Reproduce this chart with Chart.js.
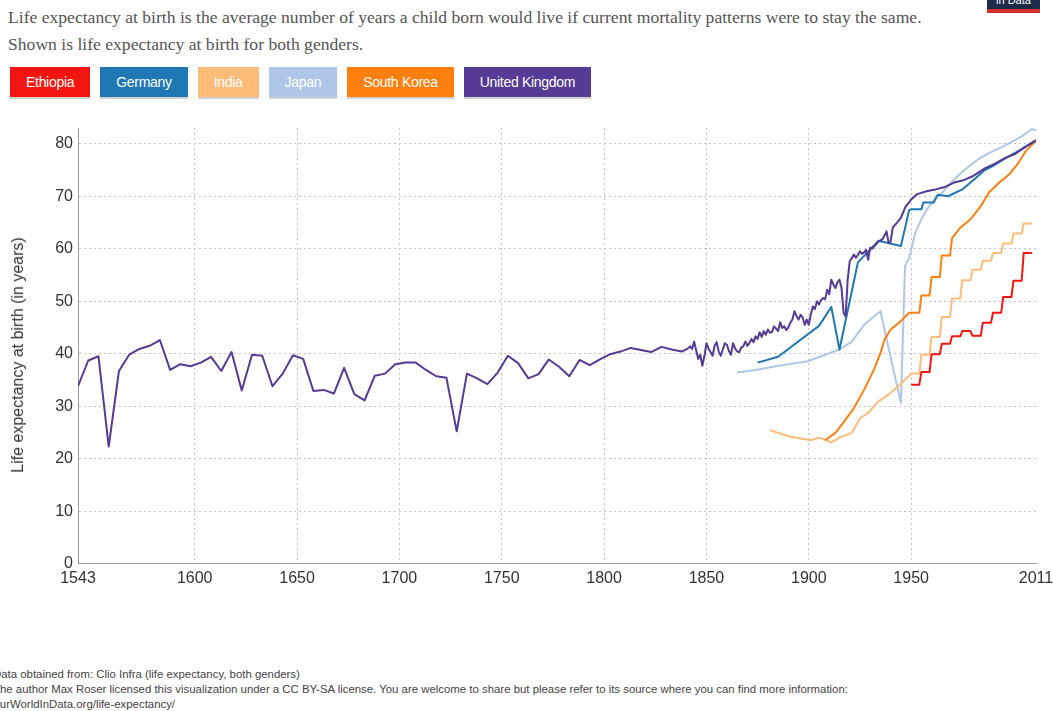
<!DOCTYPE html>
<html>
<head>
<meta charset="utf-8">
<script src="https://cdn.jsdelivr.net/npm/chart.js@4.4.1/dist/chart.umd.min.js"></script>
<style>
    html, body { margin: 0; padding: 0; background: #fff; }
    body { width: 1053px; height: 711px; position: relative; overflow: hidden; font-family: "Liberation Sans", Arial, sans-serif; }
    .intro { position: absolute; left: 8px; font-family: "Liberation Serif", serif; font-size: 17.6px; color: #555; white-space: nowrap; }
    .logo { position: absolute; left: 987px; top: -7px; width: 53px; height: 16px; background: #1d2b4b; border-bottom: 4px solid #d3302c; color: #fff; font-size: 11px; text-align: center; line-height: 14px; overflow: hidden; }
    #legend { position: absolute; left: 10px; top: 67px; display: flex; gap: 10px; }
    .btn { height: 30px; line-height: 30px; padding: 0 16px; color: #fff; font-size: 14px; letter-spacing: -0.3px; box-shadow: 0 2px 0 rgba(0,0,0,0.18); }
    #wrap { position: absolute; left: 0; top: 110px; width: 1053px; height: 490px; }
    .ytitle { position: absolute; left: 18px; top: 355px; transform: translate(-50%, -50%) rotate(-90deg); font-size: 16px; color: #333; white-space: nowrap; }
    .foot { position: absolute; font-size: 11.4px; color: #444; white-space: nowrap; }
</style>
</head>
<body>
<div class="logo">in Data</div>
<div class="intro" style="top:7px">Life expectancy at birth is the average number of years a child born would live if current mortality patterns were to stay the same.</div>
<div class="intro" style="top:34px">Shown is life expectancy at birth for both genders.</div>
<div id="legend"></div>
<div id="wrap"><canvas id="lifeChart"></canvas></div>
<div class="ytitle">Life expectancy at birth (in years)</div>
<div class="foot" style="left:-7px; top:668px">Data obtained from: Clio Infra (life expectancy, both genders)</div>
<div class="foot" style="left:-7px; top:683px">The author Max Roser licensed this visualization under a CC BY-SA license. You are welcome to share but please refer to its source where you can find more information:</div>
<div class="foot" style="left:-9px; top:698px">OurWorldInData.org/life-expectancy/</div>

<script>
// series names and colours
const seriesNames = ['Ethiopia', 'Germany', 'India', 'Japan', 'South Korea', 'United Kingdom'];
const seriesColors = ['#f3150f', '#1f77b4', '#ffbb78', '#aec7e8', '#ff7f0e', '#553a96'];

// axis ticks
const xTickYears = [1543, 1600, 1650, 1700, 1750, 1800, 1850, 1900, 1950, 2011];
const yTickValues = [0, 10, 20, 30, 40, 50, 60, 70, 80];

// Ethiopia
const ethiopiaYears = [1950, 1954, 1955, 1959, 1960, 1964, 1965, 1969, 1970, 1974, 1975, 1979, 1980, 1984, 1985, 1989, 1990, 1994, 1995, 1999, 2000, 2004, 2005, 2009];
const ethiopiaValues = [34.1, 34.1, 36.5, 36.5, 39.9, 39.9, 41.9, 41.9, 43.3, 43.3, 44.3, 44.3, 43.4, 43.4, 45.9, 45.9, 47.8, 47.8, 50.8, 50.8, 53.9, 53.9, 59.2, 59.2];

// Germany
const germanyYears = [1875, 1885, 1905, 1911, 1915, 1924, 1934, 1945, 1949, 1950, 1955, 1956, 1961, 1963, 1968, 1975, 1981, 1986, 1991, 1996, 2001, 2005, 2011];
const germanyValues = [38.3, 39.4, 45.3, 48.9, 40.8, 57.4, 61.5, 60.5, 67.3, 67.5, 67.5, 68.8, 68.8, 70.3, 70.0, 71.3, 73.3, 75.0, 76.0, 77.2, 78.3, 79.2, 80.6];

// India
const indiaYears = [1881, 1891, 1901, 1905, 1908, 1911, 1916, 1921, 1925, 1929, 1934, 1939, 1944, 1949, 1950, 1954, 1955, 1959, 1960, 1964, 1965, 1969, 1970, 1974, 1975, 1979, 1980, 1984, 1985, 1989, 1990, 1994, 1995, 1999, 2000, 2004, 2005, 2009];
const indiaValues = [25.4, 24.2, 23.5, 24.0, 23.6, 23.1, 24.2, 24.9, 27.7, 28.7, 30.9, 32.2, 33.9, 35.8, 36.2, 36.2, 39.8, 39.8, 43.2, 43.2, 47.0, 47.0, 50.5, 50.5, 54.0, 54.0, 56.0, 56.0, 57.7, 57.7, 59.2, 59.2, 61.0, 61.0, 62.9, 62.9, 64.8, 64.8];

// Japan
const japanYears = [1865, 1874, 1884, 1890, 1899, 1906, 1915, 1921, 1927, 1935, 1945, 1947, 1948, 1949, 1950, 1952, 1955, 1958, 1962, 1965, 1970, 1976, 1983, 1988, 1994, 1999, 2004, 2009, 2011];
const japanValues = [36.4, 36.9, 37.6, 38.0, 38.5, 39.5, 40.8, 42.3, 45.5, 48.1, 30.6, 56.7, 57.5, 58.2, 59.8, 63.0, 65.6, 67.7, 69.6, 70.6, 72.8, 75.0, 77.1, 78.2, 79.3, 80.3, 81.4, 82.8, 82.5];

// South Korea
const southKoreaYears = [1908, 1913, 1917, 1922, 1927, 1932, 1935, 1937, 1940, 1945, 1949, 1950, 1954, 1955, 1959, 1960, 1964, 1965, 1969, 1970, 1974, 1979, 1984, 1988, 1993, 1998, 2002, 2006, 2011];
const southKoreaValues = [23.5, 24.9, 26.9, 29.6, 33.1, 37.1, 40.1, 42.7, 44.6, 46.2, 47.8, 47.8, 47.8, 51.1, 51.1, 54.6, 54.6, 58.7, 58.7, 62.0, 64.0, 65.6, 68.1, 70.7, 72.6, 74.2, 76.1, 78.6, 80.6];

// United Kingdom
const ukYears = [
    1543, 1548, 1553, 1558, 1563, 1568, 1573, 1578, 1583, 1588, 1593, 1598, 1603, 1608, 1613, 1618, 1623, 1628, 1633, 1638,
    1643, 1648, 1653, 1658, 1663, 1668, 1673, 1678, 1683, 1688, 1693, 1698, 1703, 1708, 1713, 1718, 1723, 1728, 1733, 1738,
    1743, 1748, 1753, 1758, 1763, 1768, 1773, 1778, 1783, 1788, 1793, 1798, 1803, 1808, 1813, 1818, 1823, 1828, 1833, 1838,
    1841, 1842, 1843, 1844, 1845, 1846, 1847, 1848, 1849, 1850, 1851, 1852, 1853, 1854, 1855, 1856, 1857, 1858, 1859, 1860,
    1861, 1862, 1863, 1864, 1865, 1866, 1867, 1868, 1869, 1870, 1871, 1872, 1873, 1874, 1875, 1876, 1877, 1878, 1879, 1880,
    1881, 1882, 1883, 1884, 1885, 1886, 1887, 1888, 1889, 1890, 1891, 1892, 1893, 1894, 1895, 1896, 1897, 1898, 1899, 1900,
    1901, 1902, 1903, 1904, 1905, 1906, 1907, 1908, 1909, 1910, 1911, 1912, 1913, 1914, 1915, 1916, 1917, 1918, 1919, 1920,
    1921, 1922, 1923, 1924, 1925, 1926, 1927, 1928, 1929, 1930, 1931, 1932, 1933, 1934, 1935, 1936, 1937, 1938, 1939, 1940,
    1941, 1942, 1943, 1944, 1945, 1946, 1947, 1948, 1949, 1950, 1953, 1958, 1962, 1966, 1971, 1976, 1980, 1986, 1991, 1996,
    2001, 2005, 2011
];
const ukValues = [
    33.8, 38.7, 39.5, 22.3, 36.7, 39.8, 40.9, 41.5, 42.6, 36.9, 38.0, 37.6, 38.3, 39.4, 36.7, 40.3, 33.0, 39.8, 39.6, 33.8,
    36.2, 39.7, 39.0, 32.9, 33.1, 32.4, 37.3, 32.3, 31.1, 35.8, 36.2, 38.0, 38.3, 38.3, 36.9, 35.7, 35.4, 25.2, 36.2, 35.3,
    34.2, 36.4, 39.6, 38.2, 35.3, 36.1, 38.9, 37.5, 35.7, 38.8, 37.8, 38.9, 39.9, 40.4, 41.1, 40.7, 40.3, 41.3, 40.8, 40.4,
    41.0, 41.4, 40.9, 42.3, 40.6, 39.0, 39.8, 37.7, 39.5, 42.0, 41.0, 40.3, 39.6, 41.5, 42.2, 40.4, 39.6, 40.8, 42.0, 41.7,
    40.5, 39.8, 42.0, 41.0, 40.4, 40.3, 41.2, 41.4, 42.3, 41.5, 42.0, 42.8, 42.2, 43.3, 42.8, 44.1, 43.2, 44.3, 43.6, 44.6,
    44.0, 44.1, 45.2, 44.8, 44.3, 46.0, 44.9, 45.2, 44.5, 45.0, 45.9, 46.5, 48.1, 47.2, 46.5, 47.4, 46.9, 45.5, 46.5, 45.5,
    47.5, 49.0, 48.5, 50.0, 49.4, 50.2, 50.6, 50.4, 52.2, 51.3, 54.1, 53.2, 52.5, 53.6, 54.1, 52.5, 47.8, 47.1, 54.1, 57.6,
    58.2, 58.9, 58.3, 58.8, 59.5, 59.0, 59.3, 59.8, 57.9, 60.2, 60.0, 60.5, 60.9, 61.4, 61.6, 61.8, 62.5, 63.3, 61.1, 61.4,
    64.0, 64.5, 64.9, 65.4, 65.9, 66.8, 67.8, 68.4, 68.8, 69.4, 70.4, 71.0, 71.3, 71.7, 72.6, 73.1, 73.8, 75.3, 76.2, 77.3,
    78.1, 79.2, 80.7
];

const seriesYears = [ethiopiaYears, germanyYears, indiaYears, japanYears, southKoreaYears, ukYears];
const seriesValues = [ethiopiaValues, germanyValues, indiaValues, japanValues, southKoreaValues, ukValues];
const drawOrder = [2, 1, 4, 5, 3, 0];

// legend buttons
const legendBox = document.getElementById('legend');
seriesNames.forEach((name, i) => {
    const b = document.createElement('div');
    b.className = 'btn';
    b.style.background = seriesColors[i];
    b.textContent = name;
    legendBox.appendChild(b);
});

const datasets = seriesNames.map((name, i) => ({
    label: name,
    data: seriesYears[i].map((yr, j) => ({ x: yr, y: seriesValues[i][j] })),
    borderColor: seriesColors[i],
    backgroundColor: seriesColors[i],
    borderWidth: 2,
    pointRadius: 0,
    tension: 0,
    borderJoinStyle: 'round',
    fill: false,
    order: drawOrder[i]
}));

const tickFont = { family: '"Liberation Sans", Arial, sans-serif', size: 16 };

new Chart(document.getElementById('lifeChart'), {
    type: 'line',
    data: { datasets: datasets },
    options: {
        responsive: true,
        maintainAspectRatio: false,
        animation: false,
        layout: { padding: { top: 18, right: 17, left: 0, bottom: 0 } },
        plugins: {
            legend: { display: false },
            tooltip: { enabled: false }
        },
        scales: {
            x: {
                type: 'linear',
                min: 1543,
                max: 2011,
                afterBuildTicks: scale => { scale.ticks = xTickYears.map(v => ({ value: v })); },
                afterFit: scale => {
                    scale.height = 36.4;
                    scale.paddingLeft = 0;
                    scale.paddingRight = 0;
                },
                grid: {
                    drawTicks: false,
                    color: ctx => (ctx.tick && (ctx.tick.value === 1543 || ctx.tick.value === 2011)) ? 'rgba(0,0,0,0)' : '#c4c4c4',
                    lineWidth: 1
                },
                border: { display: true, color: '#9a9a9a', width: 1, dash: [2, 3] },
                ticks: {
                    autoSkip: false,
                    maxRotation: 0,
                    padding: 5,
                    color: '#333',
                    font: tickFont,
                    callback: v => String(v)
                }
            },
            y: {
                min: 0,
                max: 83,
                afterBuildTicks: scale => { scale.ticks = yTickValues.map(v => ({ value: v })); },
                afterFit: scale => {
                    scale.width = 78;
                    scale.paddingTop = 0;
                    scale.paddingBottom = 0;
                },
                grid: {
                    drawTicks: false,
                    color: ctx => (ctx.tick && ctx.tick.value === 0) ? 'rgba(0,0,0,0)' : '#c4c4c4',
                    lineWidth: 1
                },
                border: { display: true, color: '#9a9a9a', width: 1, dash: [2, 3] },
                ticks: {
                    padding: 5,
                    color: '#333',
                    font: tickFont,
                    callback: v => String(v)
                }
            }
        }
    }
});
</script>
</body>
</html>
